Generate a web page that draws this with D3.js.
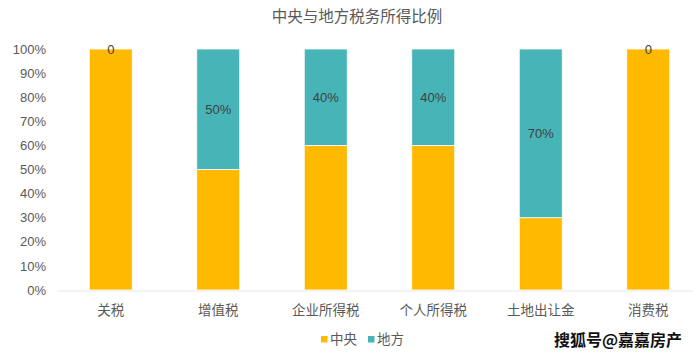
<!DOCTYPE html>
<html>
<head>
<meta charset="utf-8">
<script src="https://cdn.jsdelivr.net/npm/d3@7"></script>
<style>
  body { margin: 0; background: #fff; }
  text { font-family: "Noto Sans CJK SC", "Microsoft YaHei", sans-serif; }
</style>
</head>
<body>
<svg id="chart" width="693" height="354"></svg>
<script>
// data
const categories = ["关税", "增值税", "企业所得税", "个人所得税", "土地出让金", "消费税"];
const central = [1.0, 0.5, 0.6, 0.6, 0.3, 1.0];
const local = [0, 0.5, 0.4, 0.4, 0.7, 0];
const localLabels = ["0", "50%", "40%", "40%", "70%", "0"];
const yTicks = [0, 0.1, 0.2, 0.3, 0.4, 0.5, 0.6, 0.7, 0.8, 0.9, 1.0];
const seriesNames = ["中央", "地方"];
const colors = ["#FFBA00", "#47B5B8"];

const svg = d3.select("#chart");

const x = d3.scaleBand()
    .domain(categories)
    .range([57, 702])
    .paddingInner(0.6)
    .paddingOuter(0.3);

const y = d3.scaleLinear().domain([0, 1]).range([290, 49]);

// title
svg.append("text")
    .attr("x", 357)
    .attr("y", 22)
    .attr("text-anchor", "middle")
    .attr("font-size", "15.5px")
    .attr("fill", "#595959")
    .text("中央与地方税务所得比例");

// y axis labels (no line)
const yAxis = svg.append("g")
    .attr("transform", "translate(46,0)")
    .call(d3.axisLeft(y).tickValues(yTicks).tickFormat(d3.format(".0%")).tickSize(0).tickPadding(0));
yAxis.select(".domain").remove();
yAxis.selectAll("text")
    .attr("font-size", "13px")
    .attr("fill", "#595959")
    .style("font-family", "'Liberation Sans', Arial, sans-serif");

// stacked bars
const rows = categories.map((c, i) => ({ cat: c, central: central[i], local: local[i], label: localLabels[i] }));
const stack = d3.stack().keys(["central", "local"])(rows);

stack.forEach((layer, li) => {
    svg.append("g")
        .selectAll("rect")
        .data(layer)
        .join("rect")
        .attr("x", d => x(d.data.cat))
        .attr("width", x.bandwidth())
        .attr("y", d => y(d[1]))
        .attr("height", d => y(d[0]) - y(d[1]))
        .attr("fill", colors[li])
        .attr("stroke", "#fff")
        .attr("stroke-width", 0.8);
});

// x axis line
svg.append("line")
    .attr("x1", 57).attr("x2", 693)
    .attr("y1", y(0) + 1).attr("y2", y(0) + 1)
    .attr("stroke", "#e8e8e8")
    .attr("stroke-width", 1.2);

// data labels for 地方
svg.append("g")
    .selectAll("text")
    .data(stack[1])
    .join("text")
    .attr("x", d => x(d.data.cat) + x.bandwidth() / 2)
    .attr("y", d => (y(d[0]) + y(d[1])) / 2 + 5)
    .attr("text-anchor", "middle")
    .attr("font-size", "13px")
    .attr("fill", "#404040")
    .style("font-family", "'Liberation Sans', Arial, sans-serif")
    .text(d => d.data.label);

// category labels
svg.append("g")
    .selectAll("text")
    .data(categories)
    .join("text")
    .attr("x", d => x(d) + x.bandwidth() / 2)
    .attr("y", 315)
    .attr("text-anchor", "middle")
    .attr("font-size", "13.5px")
    .attr("fill", "#595959")
    .text(d => d);

// legend
const legendX = [321, 368];
seriesNames.forEach((name, i) => {
    svg.append("rect")
        .attr("x", legendX[i]).attr("y", 336)
        .attr("width", 6.5).attr("height", 6.5)
        .attr("fill", colors[i]);
    svg.append("text")
        .attr("x", legendX[i] + 9).attr("y", 344)
        .attr("font-size", "13.5px")
        .attr("fill", "#595959")
        .text(name);
});

// watermark
svg.append("text")
    .attr("x", 554).attr("y", 346)
    .attr("font-size", "16px")
    .attr("font-weight", "bold")
    .attr("fill", "#111")
    .attr("stroke", "#fff")
    .attr("stroke-width", 2)
    .attr("paint-order", "stroke")
    .text("搜狐号@嘉嘉房产");
</script>
</body>
</html>
